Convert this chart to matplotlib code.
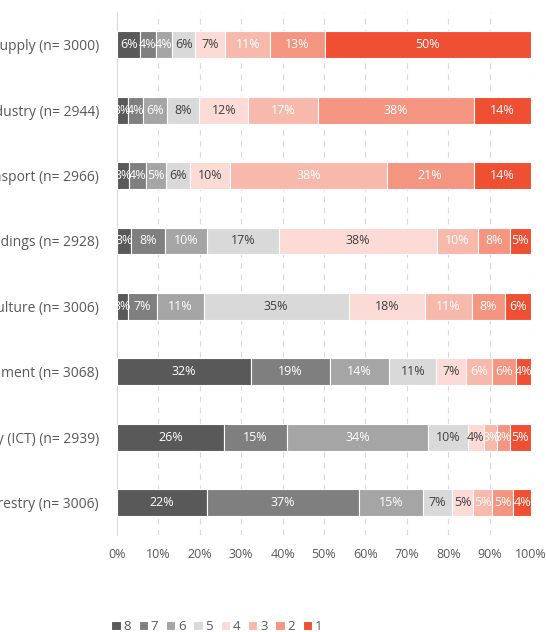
import matplotlib.pyplot as plt
import numpy as np

# categories, top to bottom
categories = ['Energy supply (n= 3000)',
              'Energy-intensive industry (n= 2944)',
              'Transport (n= 2966)',
              'Buildings (n= 2928)',
              'Agriculture (n= 3006)',
              'Government (n= 3068)',
              'Information and communication technology (ICT) (n= 2939)',
              'Forestry (n= 3006)']

# share of answers (%) per score, one value per category
score_8 = [5.6, 2.6, 3.0, 3.3, 2.7, 32.4, 25.9, 21.8]
score_7 = [3.7, 3.7, 4.1, 8.3, 6.9, 19.0, 15.1, 36.7]
score_6 = [4.0, 5.8, 4.7, 10.1, 11.3, 14.4, 34.1, 15.3]
score_5 = [5.6, 7.8, 5.8, 17.4, 35.1, 11.3, 9.6, 7.1]
score_4 = [7.3, 11.8, 9.7, 38.3, 18.4, 7.2, 4.0, 5.1]
score_3 = [10.8, 16.9, 37.8, 9.7, 11.4, 6.2, 3.2, 4.7]
score_2 = [13.2, 37.6, 21.1, 7.8, 7.9, 5.9, 3.0, 5.0]
score_1 = [49.8, 13.8, 13.8, 5.1, 6.3, 3.6, 5.1, 4.3]

series_names = ['8', '7', '6', '5', '4', '3', '2', '1']
series = [score_8, score_7, score_6, score_5, score_4, score_3, score_2, score_1]
colours = ['#595959', '#7f7f7f', '#a5a5a5', '#d9d9d9',
           '#fcdbd7', '#f8b9ad', '#f49582', '#ef4f33']
text_colours = ['white', 'white', 'white', '#404040',
                '#404040', 'white', 'white', 'white']

plt.rcParams['font.family'] = ['Open Sans', 'DejaVu Sans']

fig = plt.figure(figsize=(5.46, 6.32), dpi=100)
ax = fig.add_axes([0.2143, 0.153, 0.7582, 0.828])

y = np.arange(len(categories))
left = np.zeros(len(categories))
for name, vals, col, tcol in zip(series_names, series, colours, text_colours):
    vals = np.array(vals)
    bars = ax.barh(y, vals, left=left, height=0.41, color=col,
                   edgecolor='white', linewidth=0.8, label=name, zorder=3)
    for b, v in zip(bars, vals):
        ax.text(b.get_x() + b.get_width() / 2, b.get_y() + b.get_height() / 2,
                '%.0f%%' % v, ha='center', va='center',
                color=tcol, fontsize=9, zorder=4)
    left += vals

ax.set_ylim(len(categories) - 0.5, -0.5)
ax.set_xlim(0, 100)
ax.set_xticks(np.arange(0, 101, 10))
ax.set_xticklabels(['%d%%' % t for t in range(0, 101, 10)])
ax.set_yticks(y)
ax.set_yticklabels(categories)
ax.tick_params(axis='both', length=0, colors='#595959', labelsize=9)
ax.tick_params(axis='y', pad=13, labelsize=10)
ax.tick_params(axis='x', pad=9)

ax.grid(axis='x', color='#d9d9d9', linestyle=(0, (5, 5)), linewidth=0.8, zorder=0)
for s in ['top', 'right', 'bottom']:
    ax.spines[s].set_visible(False)
ax.spines['left'].set_color('#d9d9d9')

fig.legend(loc='center', bbox_to_anchor=(0.397, 0.008), ncol=8, frameon=False,
           handlelength=0.7, handleheight=0.7, handletextpad=0.2,
           columnspacing=0.6, fontsize=9.5, labelcolor='#595959')

fig.savefig('out.png', dpi=100)
